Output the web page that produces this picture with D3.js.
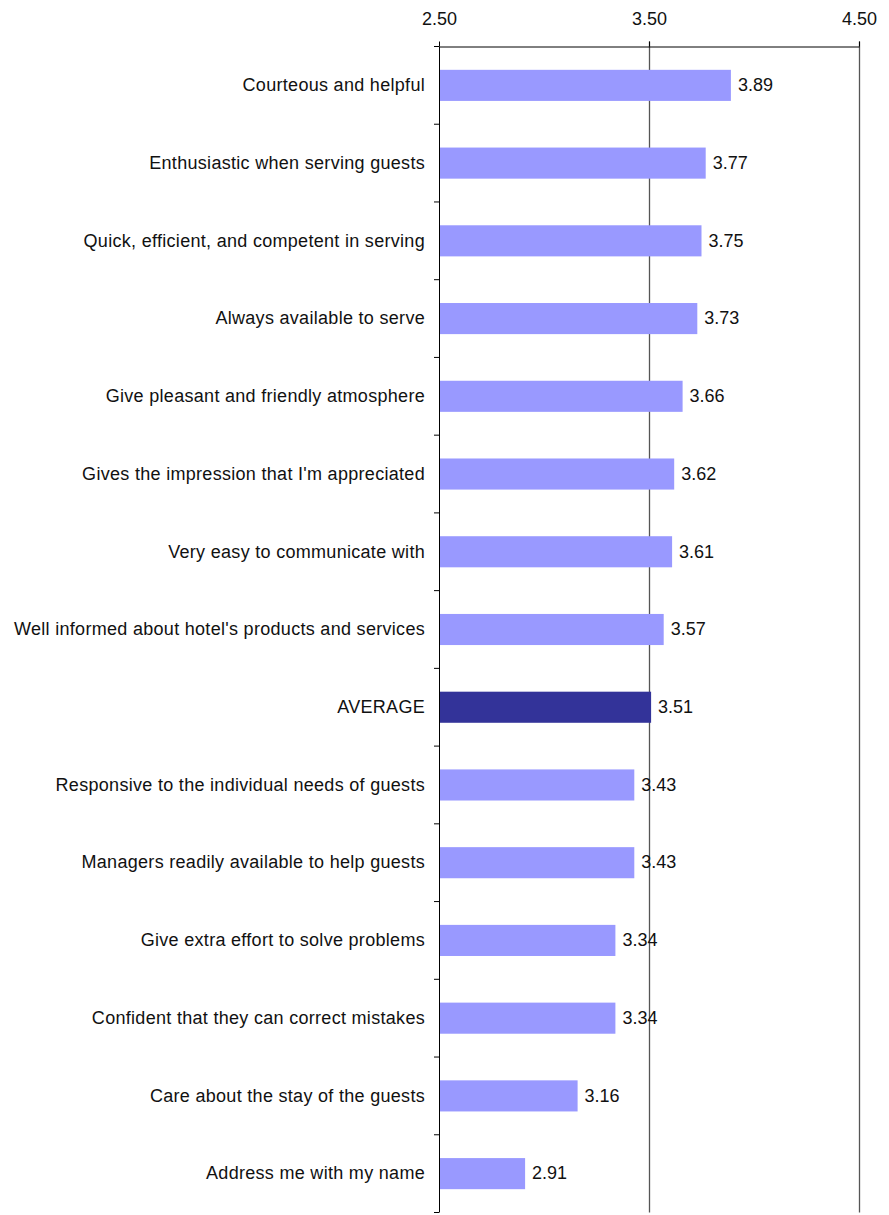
<!DOCTYPE html>
<html><head><meta charset="utf-8">
<script src="https://cdn.jsdelivr.net/npm/d3@7"></script>
<style>
html,body{margin:0;padding:0;background:#fff;}
text{font-family:"Liberation Sans",Arial,sans-serif;font-size:18px;fill:#111;}
</style></head>
<body>
<svg id="c" width="889" height="1215"></svg>
<script>
const categories = [
  "Courteous and helpful",
  "Enthusiastic when serving guests",
  "Quick, efficient, and competent in serving",
  "Always available to serve",
  "Give pleasant and friendly atmosphere",
  "Gives the impression that I'm appreciated",
  "Very easy to communicate with",
  "Well informed about hotel's products and services",
  "AVERAGE",
  "Responsive to the individual needs of guests",
  "Managers readily available to help guests",
  "Give extra effort to solve problems",
  "Confident that they can correct mistakes",
  "Care about the stay of the guests",
  "Address me with my name"
];
const values = [3.89, 3.77, 3.75, 3.73, 3.66, 3.62, 3.61, 3.57, 3.51, 3.43, 3.43, 3.34, 3.34, 3.16, 2.91];
const xTicks = [2.5, 3.5, 4.5];
const highlight = "AVERAGE";

const svg = d3.select("#c");
const mLeft = 439, mRight = 859, mTop = 46.5, mBottom = 1212.5;
const x = d3.scaleLinear().domain([2.5, 4.5]).range([mLeft, mRight]);
const y = d3.scaleBand().domain(categories).range([mTop, mBottom]).paddingInner(0.6).paddingOuter(0.3);

// gridlines
svg.append("g").selectAll("line").data(xTicks.slice(1)).join("line")
  .attr("x1", d => Math.round(x(d)) + 0.5).attr("x2", d => Math.round(x(d)) + 0.5)
  .attr("y1", mTop - 5).attr("y2", mBottom)
  .attr("stroke", "#555").attr("stroke-width", 1.3);

// bars
svg.append("g").selectAll("rect").data(categories).join("rect")
  .attr("x", x(2.5))
  .attr("y", d => y(d))
  .attr("width", (d, i) => x(values[i]) - x(2.5))
  .attr("height", y.bandwidth())
  .attr("fill", d => d === highlight ? "#333399" : "#9999FF");

// value labels
svg.append("g").selectAll("text").data(categories).join("text")
  .attr("x", (d, i) => x(values[i]) + 7)
  .attr("y", d => y(d) + y.bandwidth() / 2)
  .attr("dy", "0.32em")
  .text((d, i) => values[i].toFixed(2));

// top axis
const xAxis = d3.axisTop(x).tickValues(xTicks).tickFormat(d3.format(".2f")).tickSize(5).tickPadding(17).tickSizeOuter(0);
const gx = svg.append("g").attr("transform", `translate(0,${mTop})`).call(xAxis);
gx.select(".domain").attr("stroke", "#000");
gx.selectAll(".tick line").attr("stroke", "#000");
gx.selectAll("text").style("font-size", "18px").style("font-family", "'Liberation Sans',Arial,sans-serif").attr("fill", "#111");

// left axis: line + ticks at band boundaries
const gy = svg.append("g");
gy.append("line").attr("x1", mLeft + 0.5).attr("x2", mLeft + 0.5).attr("y1", mTop).attr("y2", mBottom).attr("stroke", "#000");
const boundaries = d3.range(categories.length + 1).map(i => mTop + i * (mBottom - mTop) / categories.length);
gy.selectAll("line.t").data(boundaries).join("line").attr("class", "t")
  .attr("x1", mLeft - 5).attr("x2", mLeft).attr("y1", d => d).attr("y2", d => d).attr("stroke", "#000");

// category labels
svg.append("g").selectAll("text").data(categories).join("text")
  .attr("x", 425)
  .attr("y", d => y(d) + y.bandwidth() / 2)
  .attr("dy", "0.32em")
  .attr("text-anchor", "end")
  .style("letter-spacing", "0.3px")
  .text(d => d);
</script>
</body></html>
